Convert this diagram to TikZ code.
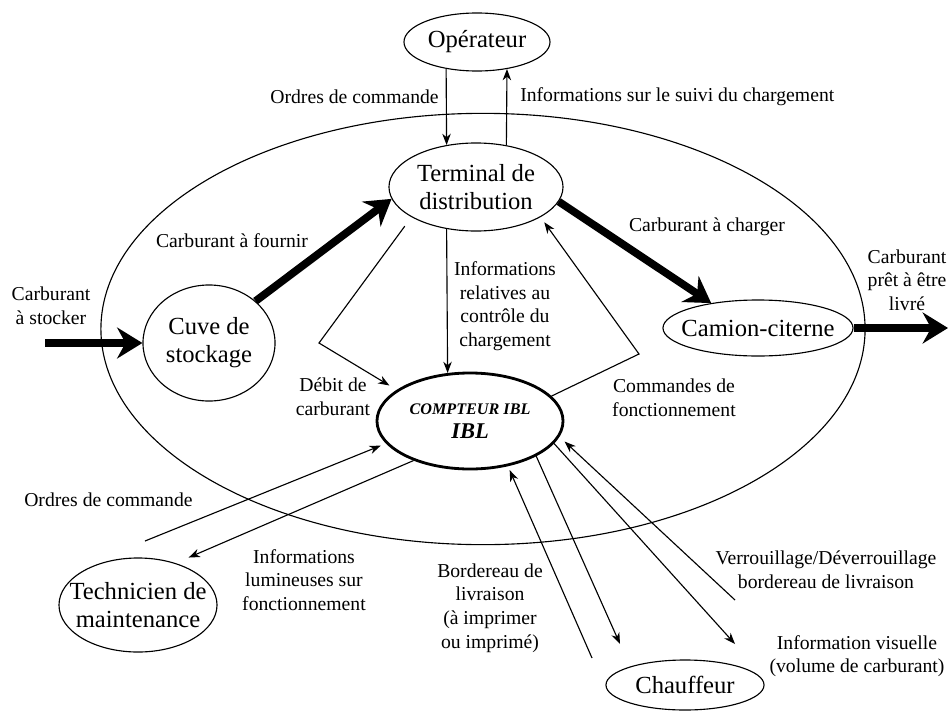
\documentclass[tikz,border=0pt]{standalone}
\usepackage{fontspec}
\setmainfont{Liberation Serif}
\usetikzlibrary{arrows.meta,shapes.geometric,calc}

\tikzset{
  bloc/.style={draw, ellipse, line width=0.8pt, inner sep=0pt, align=center,
    font=\fontsize{17.5}{20}\selectfont},
  etiq/.style={inner sep=0pt, align=center, font=\fontsize{14}{16.8}\selectfont},
  flux/.style={-{Stealth[length=8pt,width=6pt,inset=2.5pt]}, line width=0.8pt},
  fluxfort/.style={-{Stealth[length=18pt,width=22pt,inset=6pt]}, line width=5.5pt},
}

\begin{document}
\begin{tikzpicture}[x=0.025cm, y=-0.025cm]
    \useasboundingbox (0,0) rectangle (948,711);

    % frontiere du systeme
    \node[draw, ellipse, line width=0.8pt, minimum width=19.1cm, minimum height=10.78cm] (sys) at (483,329) {};

    \node[bloc, minimum width=3.65cm, minimum height=1.45cm] (oper) at (477,42) {Opérateur};
    \node[bloc, minimum width=4.35cm, minimum height=2.2cm] (term) at (476,187) {Terminal de\\distribution};
    \node[bloc, minimum width=3.3cm, minimum height=2.9cm] (cuve) at (209,343) {Cuve de\\stockage};
    \node[bloc, inner xsep=-7pt, minimum width=4.75cm, minimum height=1.4cm] (camion) at (758,328) {Camion-citerne};
    \node[bloc, line width=2pt, inner xsep=-3pt, minimum width=4.65cm, minimum height=2.4cm,
      font=\bfseries\itshape] (cpt) at (470,421)
      {{\fontsize{11.5}{14}\selectfont COMPTEUR IBL}\\[5pt]{\fontsize{16}{19}\selectfont IBL}};
    \node[bloc, inner xsep=-10pt, minimum width=3.95cm, minimum height=2.35cm] (tech) at (138,605) {Technicien de\\maintenance};
    \node[bloc, minimum width=3.95cm, minimum height=1.25cm] (chauf) at (685,685) {Chauffeur};

    % operateur <-> terminal
    \draw[flux] (oper.221) -- (term.125);
    \draw[flux] (term.54) -- (oper.318);
    \node[etiq, anchor=east] (lblOrdresOp) at (439,97) {Ordres de commande};
    \node[etiq, anchor=west] (lblSuivi) at (520,97) {Informations sur le suivi du chargement};

    % flux de carburant
    \coordinate (entree) at (45,343);
    \coordinate (sortie) at (948,328);
    \draw[fluxfort] (entree) -- (cuve.west);
    \draw[fluxfort] (cuve.42) -- (term.188);
    \draw[fluxfort] (term.-10) -- (camion.152);
    \draw[fluxfort] (camion.east) -- (sortie);
    \node[etiq] (lblStocker) at (51,306) {Carburant\\à stocker};
    \node[etiq] (lblFournir) at (232,241) {Carburant à fournir};
    \node[etiq] (lblCharger) at (707,227) {Carburant à charger};
    \node[etiq] (lblLivre) at (907,280) {Carburant\\prêt à être\\livré};

    % terminal <-> compteur
    \draw[flux] (term.235) -- (cpt.115);
    \node[etiq] (lblControle) at (505,306) {Informations\\relatives au\\contrôle du\\chargement};

    \coordinate (coudeDebit) at (319,343);
    \draw[flux, shorten <=8pt, shorten >=6pt] (term.205) -- (coudeDebit) -- (cpt.157);
    \node[etiq] (lblDebit) at (333,397) {Débit de\\carburant};

    \coordinate (coudeCmd) at (639,354);
    \draw[flux, shorten >=4.5pt] (cpt.17) -- (coudeCmd) -- (term.335);
    \node[etiq] (lblCmdFct) at (674,398) {Commandes de\\fonctionnement};

    % technicien
    \coordinate (ordTech) at (145,541);
    \draw[flux, shorten >=4pt] (ordTech) -- (cpt.195);
    \draw[flux, shorten >=10pt] (cpt.215) -- (tech.48);
    \node[etiq, anchor=west] (lblOrdresTech) at (24,500) {Ordres de commande};
    \node[etiq] (lblLumineuses) at (304,580) {Informations\\lumineuses sur\\fonctionnement};

    % chauffeur
    \coordinate (bordChauf) at (592,658);
    \coordinate (versChauf) at (620,644);
    \coordinate (visuChauf) at (735,644);
    \coordinate (verrChauf) at (735,600);
    \draw[flux, shorten >=3pt] (bordChauf) -- (cpt.310);
    \draw[flux] (cpt.332) -- (versChauf);
    \draw[flux] (cpt.345) -- (visuChauf);
    \draw[flux, shorten >=5pt] (verrChauf) -- (cpt.350);
    \node[etiq] (lblBordereau) at (490,608) {Bordereau de\\livraison\\(à imprimer\\ou imprimé)};
    \node[etiq] (lblVerrou) at (826,570) {Verrouillage/Déverrouillage\\bordereau de livraison};
    \node[etiq] (lblVisuelle) at (857,656) {Information visuelle\\(volume de carburant)};
\end{tikzpicture}
\end{document}
